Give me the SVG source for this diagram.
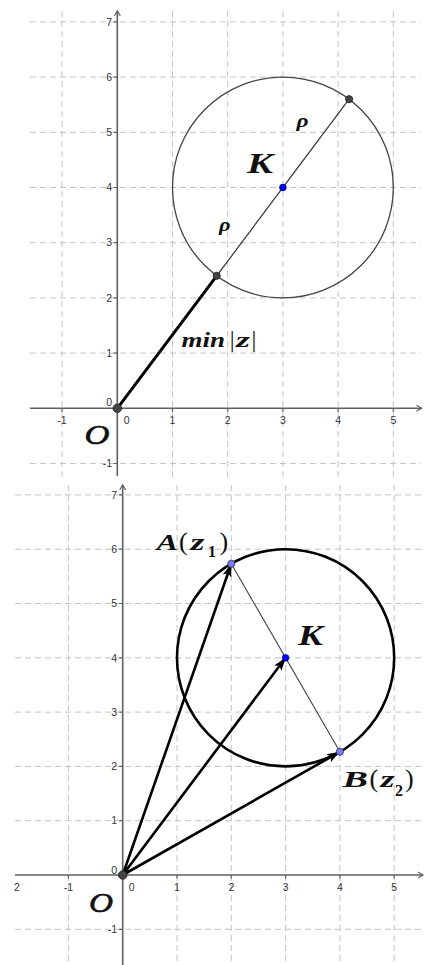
<svg xmlns="http://www.w3.org/2000/svg" width="430" height="965" viewBox="0 0 430 965">
<style>
.grid{stroke:#c4c4c4;stroke-width:1;stroke-dasharray:6,4;fill:none}
.axis{stroke:#5f5f5f;stroke-width:1.6;fill:none}
.tick{stroke:#5f5f5f;stroke-width:1.2}
.lbly{font-family:"Liberation Sans",Arial,sans-serif;font-size:10.5px;fill:#333;text-anchor:end}
.lblx{font-family:"Liberation Sans",Arial,sans-serif;font-size:10.5px;fill:#333;text-anchor:middle}
.math{font-family:"Liberation Serif","Times New Roman",serif;font-style:italic;font-weight:bold;fill:#111}
.up{font-family:"Liberation Serif","Times New Roman",serif;font-style:normal;font-weight:normal;fill:#111}
.sub{font-family:"Liberation Serif","Times New Roman",serif;font-style:normal;font-weight:bold;fill:#111}
.origin{font-family:"Liberation Serif","Times New Roman",serif;font-style:italic;font-weight:normal;fill:#111;stroke:#111;stroke-width:0.6}
</style>
<defs>
<marker id="axarr" markerUnits="userSpaceOnUse" markerWidth="8" markerHeight="8" refX="6" refY="4" orient="auto">
<path d="M1,1 L6,4 L1,7" fill="none" stroke="#5f5f5f" stroke-width="1.2"/>
</marker>
<marker id="vec" markerUnits="userSpaceOnUse" markerWidth="14" markerHeight="10" refX="13" refY="5" orient="auto">
<path d="M0,0.5 L13,5 L0,9.5 L3,5 z" fill="#000"/>
</marker>
</defs>

<!-- ===== TOP PLOT ===== -->
<g id="top-grid">
<path class="grid" d="M62,11V478 M172.5,11V478 M227.7,11V478 M282.9,11V478 M338.1,11V478 M393.3,11V478"/>
<path class="grid" d="M30,463.5H421 M30,353.1H421 M30,297.9H421 M30,242.7H421 M30,187.5H421 M30,132.3H421 M30,77.1H421 M30,21.9H421"/>
</g>
<g id="top-axes">
<line class="axis" x1="30" y1="408.3" x2="421.5" y2="408.3" marker-end="url(#axarr)"/>
<line class="axis" x1="117.3" y1="476" x2="117.3" y2="11" marker-end="url(#axarr)"/>
<path class="tick" d="M62,408.3v3.5 M172.5,408.3v3.5 M227.7,408.3v3.5 M282.9,408.3v3.5 M338.1,408.3v3.5 M393.3,408.3v3.5 M113.8,463.5h3.5 M113.8,353.1h3.5 M113.8,297.9h3.5 M113.8,242.7h3.5 M113.8,187.5h3.5 M113.8,132.3h3.5 M113.8,77.1h3.5 M113.8,21.9h3.5"/>
<text class="lblx" x="62" y="424">-1</text>
<text class="lblx" x="126.7" y="424">0</text>
<text class="lblx" x="172.5" y="424">1</text>
<text class="lblx" x="227.7" y="424">2</text>
<text class="lblx" x="282.9" y="424">3</text>
<text class="lblx" x="338.1" y="424">4</text>
<text class="lblx" x="393.3" y="424">5</text>
<text class="lbly" x="112" y="406">0</text>
<text class="lbly" x="112" y="467">-1</text>
<text class="lbly" x="112" y="356.8">1</text>
<text class="lbly" x="112" y="301.6">2</text>
<text class="lbly" x="112" y="246.4">3</text>
<text class="lbly" x="112" y="191.2">4</text>
<text class="lbly" x="112" y="136">5</text>
<text class="lbly" x="112" y="80.8">6</text>
<text class="lbly" x="112" y="25.6">7</text>
</g>
<g id="top-circle">
<circle cx="282.9" cy="187.5" r="110.4" fill="none" stroke="#444" stroke-width="1.3"/>
</g>
<g id="top-connectors">
<line x1="117.3" y1="408.3" x2="216.7" y2="275.8" stroke="#000" stroke-width="3"/>
<line x1="216.7" y1="275.8" x2="349.1" y2="99.2" stroke="#333" stroke-width="1.2"/>
</g>
<g id="top-O">
<circle cx="117.3" cy="408.3" r="4.3" fill="#444" stroke="#222" stroke-width="0.8"/>
<text class="origin" x="84.5" y="443.5" font-size="28" textLength="25" lengthAdjust="spacingAndGlyphs">O</text>
</g>
<g id="top-P1"><circle cx="216.7" cy="275.8" r="3.6" fill="#444" stroke="#222" stroke-width="0.8"/></g>
<g id="top-P2"><circle cx="349.1" cy="99.2" r="3.6" fill="#444" stroke="#222" stroke-width="0.8"/></g>
<g id="top-K">
<circle cx="282.9" cy="187.5" r="3.4" fill="#0000ff" stroke="#000066" stroke-width="0.6"/>
<text class="math" x="247" y="173" font-size="29" textLength="26" lengthAdjust="spacingAndGlyphs">K</text>
</g>
<g id="top-labels">
<text class="math" x="296.5" y="127" font-size="19" textLength="12" lengthAdjust="spacingAndGlyphs">ρ</text>
<text class="math" x="219" y="231" font-size="19" textLength="11.5" lengthAdjust="spacingAndGlyphs">ρ</text>
<text class="math" y="347" font-size="22"><tspan x="181.5" textLength="43.5" lengthAdjust="spacingAndGlyphs">min</tspan><tspan class="up" x="229.8" font-size="24">|</tspan><tspan x="236" textLength="14" lengthAdjust="spacingAndGlyphs">z</tspan><tspan class="up" x="251.6" font-size="24">|</tspan></text>
</g>

<!-- ===== BOTTOM PLOT ===== -->
<g id="bottom-grid">
<path class="grid" d="M68.4,485V965 M177,485V965 M231.3,485V965 M285.6,485V965 M339.9,485V965 M394.2,485V965"/>
<path class="grid" d="M15,929.3H423 M15,820.7H423 M15,766.4H423 M15,712.1H423 M15,657.8H423 M15,603.5H423 M15,549.2H423 M15,494.9H423"/>
</g>
<g id="bottom-axes">
<line class="axis" x1="15" y1="875" x2="423" y2="875" marker-end="url(#axarr)"/>
<line class="axis" x1="122.7" y1="965" x2="122.7" y2="485" marker-end="url(#axarr)"/>
<path class="tick" d="M68.4,875v3.5 M177,875v3.5 M231.3,875v3.5 M285.6,875v3.5 M339.9,875v3.5 M394.2,875v3.5 M119.2,929.3h3.5 M119.2,820.7h3.5 M119.2,766.4h3.5 M119.2,712.1h3.5 M119.2,657.8h3.5 M119.2,603.5h3.5 M119.2,549.2h3.5 M119.2,494.9h3.5"/>
<text class="lblx" x="17" y="890.5">2</text>
<text class="lblx" x="68.4" y="890.5">-1</text>
<text class="lblx" x="131.7" y="890.5">0</text>
<text class="lblx" x="177" y="890.5">1</text>
<text class="lblx" x="231.3" y="890.5">2</text>
<text class="lblx" x="285.6" y="890.5">3</text>
<text class="lblx" x="339.9" y="890.5">4</text>
<text class="lblx" x="394.2" y="890.5">5</text>
<text class="lbly" x="117" y="873.5">0</text>
<text class="lbly" x="117" y="933">-1</text>
<text class="lbly" x="117" y="824.4">1</text>
<text class="lbly" x="117" y="770.1">2</text>
<text class="lbly" x="117" y="715.8">3</text>
<text class="lbly" x="117" y="661.5">4</text>
<text class="lbly" x="117" y="607.2">5</text>
<text class="lbly" x="117" y="552.9">6</text>
<text class="lbly" x="117" y="498.6">7</text>
</g>
<g id="bottom-circle">
<circle cx="285.6" cy="657.8" r="108.6" fill="none" stroke="#000" stroke-width="2.6"/>
</g>
<g id="bottom-connectors">
<line x1="231.3" y1="563.8" x2="339.9" y2="751.8" stroke="#444" stroke-width="1.1"/>
<line x1="122.7" y1="875" x2="231.3" y2="563.8" stroke="#000" stroke-width="2.6" marker-end="url(#vec)"/>
<line x1="122.7" y1="875" x2="285.6" y2="657.8" stroke="#000" stroke-width="2.6" marker-end="url(#vec)"/>
<line x1="122.7" y1="875" x2="339.9" y2="751.8" stroke="#000" stroke-width="2.6" marker-end="url(#vec)"/>
</g>
<g id="bottom-O">
<circle cx="122.7" cy="875" r="4.3" fill="#444" stroke="#222" stroke-width="0.8"/>
<text class="origin" x="89" y="911.5" font-size="28" textLength="24" lengthAdjust="spacingAndGlyphs">O</text>
</g>
<g id="bottom-A">
<circle cx="231.3" cy="563.8" r="3.6" fill="#7b7bff" stroke="#333" stroke-width="0.8"/>
<text class="math" y="550" font-size="23"><tspan x="156.5" textLength="21.5" lengthAdjust="spacingAndGlyphs">A</tspan><tspan class="up" x="179" font-size="26">(</tspan><tspan x="190.5" textLength="14" lengthAdjust="spacingAndGlyphs">z</tspan><tspan class="sub" x="208" y="556.5" font-size="16">1</tspan><tspan class="up" x="219.5" y="550" font-size="26">)</tspan></text>
</g>
<g id="bottom-B">
<circle cx="339.9" cy="751.8" r="3.6" fill="#7b7bff" stroke="#333" stroke-width="0.8"/>
<text class="math" y="787" font-size="24"><tspan x="342.5" textLength="25.5" lengthAdjust="spacingAndGlyphs">B</tspan><tspan class="up" x="369.5" font-size="26">(</tspan><tspan x="380.5" textLength="14" lengthAdjust="spacingAndGlyphs">z</tspan><tspan class="sub" x="395" y="796" font-size="16">2</tspan><tspan class="up" x="405" y="787" font-size="26">)</tspan></text>
</g>
<g id="bottom-K">
<circle cx="285.6" cy="657.8" r="3.4" fill="#0000ff" stroke="#000066" stroke-width="0.6"/>
<text class="math" x="298" y="645" font-size="29" textLength="25" lengthAdjust="spacingAndGlyphs">K</text>
</g>
</svg>
